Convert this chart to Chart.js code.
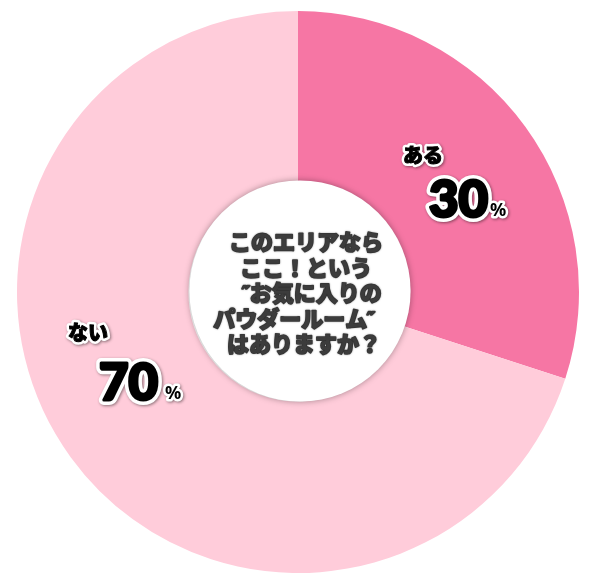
<!DOCTYPE html>
<html>
<head>
<meta charset="utf-8">
<script src="https://cdn.jsdelivr.net/npm/chart.js@4"></script>
<style>
  html, body { margin: 0; padding: 0; background: #fff; }
  canvas { display: block; }
</style>
</head>
<body>
<canvas id="chartOne" width="592" height="574"></canvas>
<script>
// データ
let categories = ['ある', 'ない'];
let values = [30, 70];
let valueLabels = ['30', '70'];
let questionLines = ['このエリアなら', 'ここ！という', '˝お気に入りの', 'パウダールーム˝', 'はありますか？'];

let colores = ['#F676A4', '#FFCCDA'];

// 中央の白い円と質問文
const centerPlugin = {
    id: 'centerText',
    afterDatasetsDraw(chart) {
        const ctx = chart.ctx;
        const arc = chart.getDatasetMeta(0).data[0];
        const cx = arc.x, cy = arc.y;
        const r = arc.innerRadius;

        ctx.save();
        ctx.beginPath();
        ctx.arc(cx + 2, cy - 1, r + 1, 0, Math.PI * 2);
        ctx.fillStyle = '#fff';
        ctx.shadowColor = 'rgba(0,0,0,0.35)';
        ctx.shadowBlur = 6;
        ctx.fill();
        ctx.restore();

        ctx.save();
        ctx.font = '900 22px "Noto Sans CJK JP"';
        ctx.textAlign = 'center';
        ctx.textBaseline = 'middle';
        ctx.fillStyle = '#3c3c3c';
        ctx.strokeStyle = '#3c3c3c';
        ctx.lineWidth = 1.6;
        ctx.lineJoin = 'round';
        ctx.shadowColor = 'rgba(0,0,0,0.3)';
        ctx.shadowBlur = 2;
        let offs = [8, 8, 14, -4, 6];
        questionLines.forEach((linea, i) => {
            ctx.strokeText(linea, cx + offs[i], cy - 50 + i * 25.5);
            ctx.fillText(linea, cx + offs[i], cy - 50 + i * 25.5);
        });
        ctx.restore();
    }
};

// ラベル（ある 30% / ない 70%）
const labelPlugin = {
    id: 'sliceLabels',
    afterDatasetsDraw(chart) {
        const ctx = chart.ctx;
        const arc = chart.getDatasetMeta(0).data[0];
        const cx = arc.x, cy = arc.y;
        // 中心からのオフセット
        const pos = [
            { cat: [105, -137], num: [131, -75], pct: [192, -76] },
            { cat: [-230, 40], num: [-199, 108], pct: [-133, 107] }
        ];

        function outlined(text, x, y, font, lw, extra) {
            ctx.font = font;
            ctx.lineJoin = 'round';
            ctx.shadowColor = 'rgba(0,0,0,0.45)';
            ctx.shadowBlur = 3;
            ctx.shadowOffsetX = 1;
            ctx.shadowOffsetY = 1;
            ctx.strokeStyle = '#fff';
            ctx.lineWidth = lw + extra;
            ctx.strokeText(text, x, y);
            ctx.shadowColor = 'transparent';
            ctx.fillStyle = '#000';
            if (extra > 0) {
                ctx.strokeStyle = '#000';
                ctx.lineWidth = extra;
                ctx.strokeText(text, x, y);
            }
            ctx.fillText(text, x, y);
        }

        ctx.save();
        ctx.textAlign = 'left';
        categories.forEach((cat, i) => {
            const p = pos[i];
            ctx.textBaseline = 'middle';
            outlined(cat, cx + p.cat[0], cy + p.cat[1], '900 20px "Noto Sans CJK JP"', 5, 1);
            ctx.textBaseline = 'alphabetic';
            outlined(valueLabels[i], cx + p.num[0], cy + p.num[1], '900 51px Lato', 7, 3);
            outlined('%', cx + p.pct[0], cy + p.pct[1], 'bold 18px "Noto Sans"', 5, 0);
        });
        ctx.restore();
    }
};

var ctxOne = document.getElementById('chartOne').getContext('2d');
var chartOne = new Chart(ctxOne, {
    type: 'doughnut',
    data: {
        labels: categories,
        datasets: [{
            data: values,
            backgroundColor: colores,
            borderWidth: 0
        }]
    },
    options: {
        responsive: false,
        animation: false,
        cutout: '39%',
        layout: {
            padding: { left: 17, right: 13, top: 11, bottom: 1 }
        },
        plugins: {
            legend: { display: false },
            tooltip: { enabled: false }
        }
    },
    plugins: [centerPlugin, labelPlugin]
});
</script>
</body>
</html>
